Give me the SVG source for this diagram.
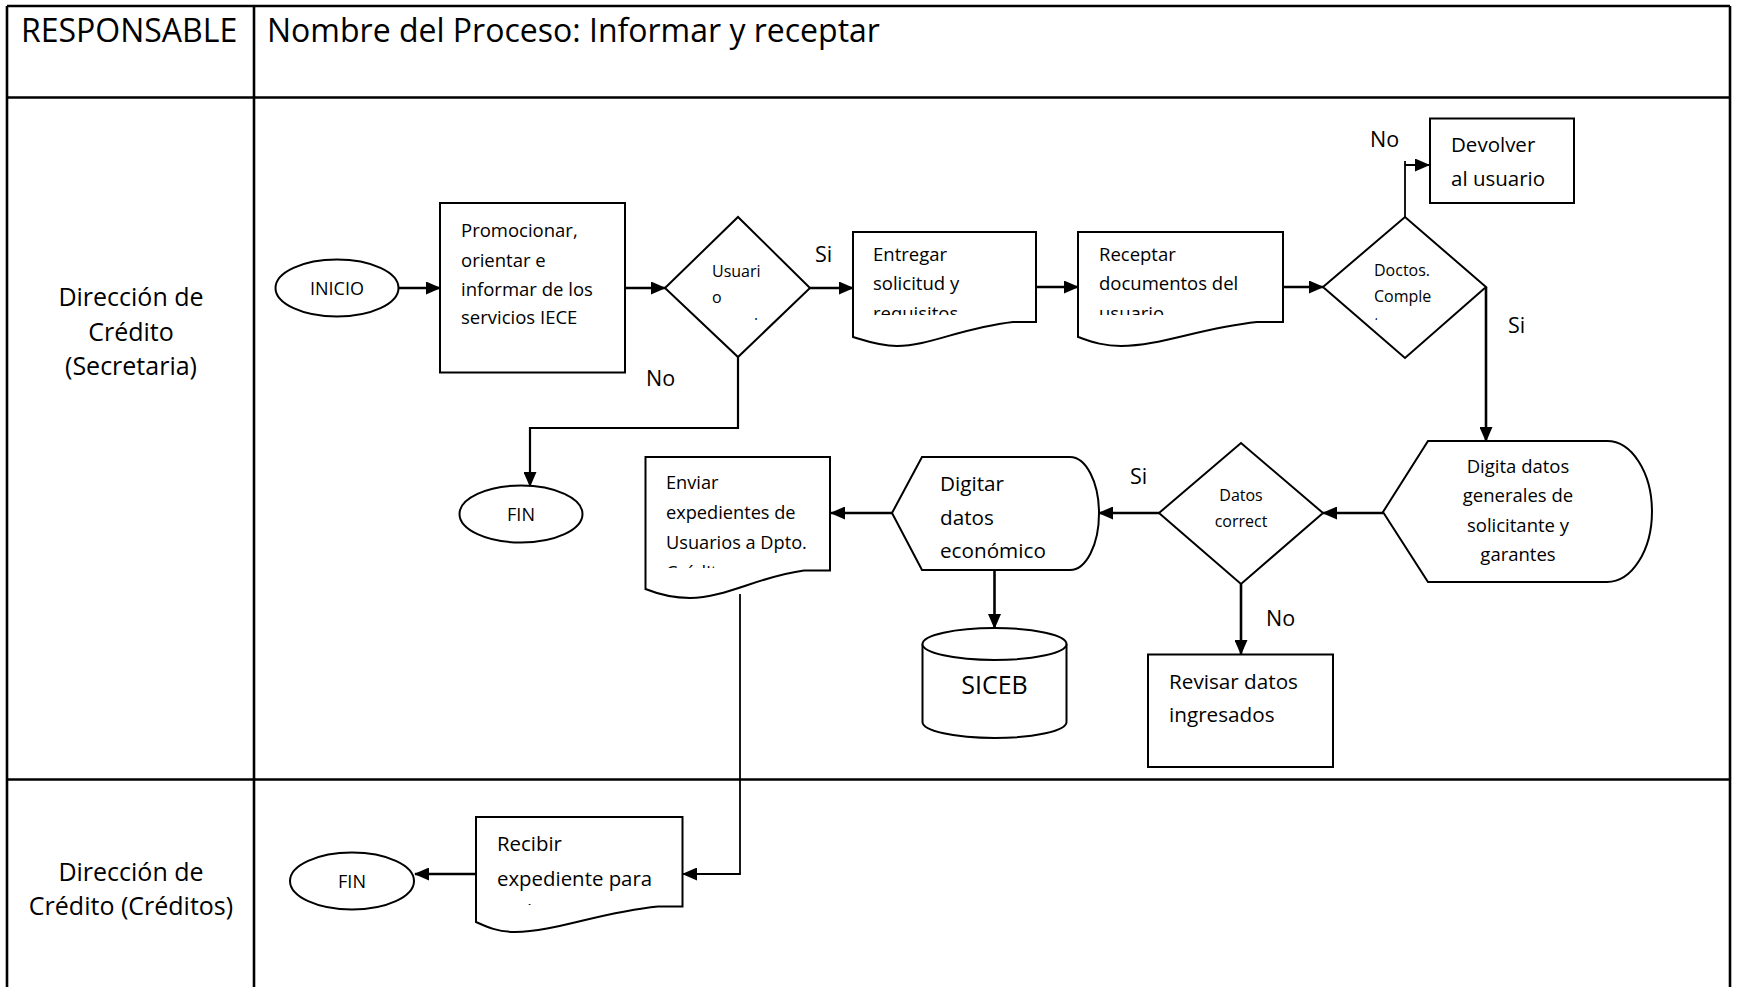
<svg xmlns="http://www.w3.org/2000/svg" width="1737" height="987" viewBox="0 0 1737 987">
<style>
text{font-family:"Open Sans","Liberation Sans",sans-serif;fill:#000}
.tbl{stroke:#000;stroke-width:2.6;fill:none}
.shp{stroke:#000;stroke-width:2;fill:#fff}
.con{stroke:#000;stroke-width:2.6;fill:none}
.thin{stroke:#000;stroke-width:1.8;fill:none}
.hdr{font-size:32px}
.lane{font-size:25px;text-anchor:middle}
.lbl{font-size:21.5px}
.mid{text-anchor:middle}
</style>
<defs>
<marker id="arr" markerUnits="userSpaceOnUse" markerWidth="15" markerHeight="13" viewBox="0 0 15 13" refX="14" refY="6.5" orient="auto">
<path d="M0,0 L15,6.5 L0,13 z" fill="#000"/>
</marker>
<clipPath id="cUsu"><rect x="700" y="250" width="90" height="70"/></clipPath>
<clipPath id="cEnt"><rect x="855" y="235" width="180" height="80"/></clipPath>
<clipPath id="cRec"><rect x="1080" y="235" width="200" height="80"/></clipPath>
<clipPath id="cDoc"><rect x="1360" y="250" width="90" height="70"/></clipPath>
<clipPath id="cEnv"><rect x="648" y="460" width="180" height="108"/></clipPath>
<clipPath id="cRcb"><rect x="478" y="820" width="202" height="85"/></clipPath>
</defs>
<rect width="1737" height="987" fill="#fff"/>
<g id="table">
<line class="tbl" x1="7" y1="6" x2="1730" y2="6"/>
<line class="tbl" x1="7" y1="6" x2="7" y2="987"/>
<line class="tbl" x1="1730" y1="6" x2="1730" y2="987"/>
<line class="tbl" x1="254" y1="6" x2="254" y2="987"/>
<line class="tbl" x1="7" y1="97.5" x2="1730" y2="97.5"/>
<line class="tbl" x1="7" y1="779.5" x2="1730" y2="779.5"/>
<text class="hdr" x="21" y="42">RESPONSABLE</text>
<text class="hdr" x="267" y="42">Nombre del Proceso: Informar y receptar</text>
<text class="lane" x="131" y="306">Dirección de</text>
<text class="lane" x="131" y="341">Crédito</text>
<text class="lane" x="131" y="375">(Secretaria)</text>
<text class="lane" x="131" y="881">Dirección de</text>
<text class="lane" x="131" y="915">Crédito (Créditos)</text>
</g>
<g id="connectors">
<line class="con" x1="399" y1="288" x2="440" y2="288" marker-end="url(#arr)"/>
<line class="con" x1="625" y1="288" x2="665" y2="288" marker-end="url(#arr)"/>
<line class="con" x1="810" y1="288" x2="853" y2="288" marker-end="url(#arr)"/>
<line class="con" x1="1036" y1="287" x2="1078" y2="287" marker-end="url(#arr)"/>
<line class="con" x1="1283" y1="287" x2="1323" y2="287" marker-end="url(#arr)"/>
<path class="thin" d="M1405,217 V161 M1405,165 H1429" marker-end="url(#arr)"/>
<line class="con" x1="1486" y1="287" x2="1486" y2="441" marker-end="url(#arr)"/>
<line class="con" x1="1383" y1="513" x2="1323" y2="513" marker-end="url(#arr)"/>
<line class="con" x1="1159" y1="513" x2="1099" y2="513" marker-end="url(#arr)"/>
<line class="con" x1="892" y1="513" x2="831" y2="513" marker-end="url(#arr)"/>
<line class="con" x1="994.5" y1="570" x2="994.5" y2="628" marker-end="url(#arr)"/>
<line class="con" x1="1241" y1="584" x2="1241" y2="654" marker-end="url(#arr)"/>
<path class="con" style="stroke-width:2.2" d="M738,357 V428 H530 V486" marker-end="url(#arr)"/>
<path class="thin" d="M740,594 V874 H683" marker-end="url(#arr)"/>
<line class="con" x1="476" y1="874" x2="415" y2="874" marker-end="url(#arr)"/>
<text class="lbl" x="815" y="262">Si</text>
<text class="lbl" x="646" y="386">No</text>
<text class="lbl" x="1370" y="147">No</text>
<text class="lbl" x="1508" y="333">Si</text>
<text class="lbl" x="1130" y="484">Si</text>
<text class="lbl" x="1266" y="626">No</text>
</g>
<g id="inicio">
<ellipse class="shp" cx="337" cy="288" rx="61.5" ry="28.5"/>
<text class="mid" x="337" y="295" font-size="18">INICIO</text>
</g>
<g id="promocionar">
<rect class="shp" x="440" y="203" width="185" height="169.5"/>
<text x="461" y="236.5" font-size="18.5">Promocionar,</text>
<text x="461" y="266.5" font-size="18.5">orientar e</text>
<text x="461" y="295.5" font-size="18.5">informar de los</text>
<text x="461" y="324" font-size="18.5">servicios IECE</text>
</g>
<g id="usuario">
<polygon class="shp" points="665,288 738,217 810,288 738,357"/>
<g clip-path="url(#cUsu)" font-size="16">
<text x="712" y="277">Usuari</text>
<text x="712" y="303">o</text>
<text x="712" y="329.5">cumple</text>
</g>
</g>
<g id="fin1">
<ellipse class="shp" cx="521" cy="514" rx="61.5" ry="28.5"/>
<text class="mid" x="521" y="520.5" font-size="18">FIN</text>
</g>
<g id="entregar">
<path class="shp" d="M853,232 H1036 V322 H1013 C960,328 930,346 897,346 C880,346 866,341 853,337 Z"/>
<g clip-path="url(#cEnt)" font-size="18.5">
<text x="873" y="261">Entregar</text>
<text x="873" y="290">solicitud y</text>
<text x="873" y="320">requisitos</text>
</g>
</g>
<g id="receptar">
<path class="shp" d="M1078,232 H1283 V322 H1257 C1200,328 1160,346 1121,346 C1102,346 1090,341 1078,337 Z"/>
<g clip-path="url(#cRec)" font-size="18.5">
<text x="1099" y="261">Receptar</text>
<text x="1099" y="290">documentos del</text>
<text x="1099" y="320">usuario</text>
</g>
</g>
<g id="doctos">
<polygon class="shp" points="1323,287 1405,217 1486,287 1405,358"/>
<g clip-path="url(#cDoc)" font-size="16">
<text x="1374" y="276">Doctos.</text>
<text x="1374" y="302">Comple</text>
<text x="1374" y="329">tos</text>
</g>
</g>
<g id="devolver">
<rect class="shp" x="1430" y="118.5" width="144" height="84.5"/>
<text x="1451" y="152" font-size="20.5">Devolver</text>
<text x="1451" y="186" font-size="20.5">al usuario</text>
</g>
<g id="digita">
<path class="shp" d="M1383,512 L1428,441 H1607 A45,70.5 0 0 1 1607,582 H1428 Z"/>
<g font-size="18.5">
<text class="mid" x="1518" y="472.5">Digita datos</text>
<text class="mid" x="1518" y="502">generales de</text>
<text class="mid" x="1518" y="531.5">solicitante y</text>
<text class="mid" x="1518" y="561">garantes</text>
</g>
</g>
<g id="datos">
<polygon class="shp" points="1159,513 1241,443 1323,513 1241,584"/>
<text class="mid" x="1241" y="501" font-size="16">Datos</text>
<text class="mid" x="1241" y="527" font-size="16">correct</text>
</g>
<g id="digitar">
<path class="shp" d="M892,513 L922,457 H1070 A29,56.5 0 0 1 1070,570 H922 Z"/>
<text x="940" y="491" font-size="20.7">Digitar</text>
<text x="940" y="525" font-size="20.7">datos</text>
<text x="940" y="557.5" font-size="20.7">económico</text>
</g>
<g id="siceb">
<path class="shp" d="M922.5,644 V722 A72,16 0 0 0 1066.5,722 V644"/>
<ellipse class="shp" cx="994.5" cy="644" rx="72" ry="16"/>
<text class="mid" x="994.5" y="694" font-size="25">SICEB</text>
</g>
<g id="revisar">
<rect class="shp" x="1148" y="654.5" width="185" height="112.5"/>
<text x="1169" y="688.5" font-size="20.7">Revisar datos</text>
<text x="1169" y="722" font-size="20.7">ingresados</text>
</g>
<g id="enviar">
<path class="shp" d="M645.5,457 H830 V570.5 H804 C760,576 725,598 690,598 C672,598 658,594 645.5,589 Z"/>
<g clip-path="url(#cEnv)" font-size="18.2">
<text x="666" y="488.5">Enviar</text>
<text x="666" y="518.5">expedientes de</text>
<text x="666" y="548.5">Usuarios a Dpto.</text>
<text x="666" y="578.5">Crédito</text>
</g>
</g>
<g id="recibir">
<path class="shp" d="M476,817 H682.5 V906.5 H658 C600,912 555,932 515,932 C498,932 487,927 476,922 Z"/>
<g clip-path="url(#cRcb)" font-size="20.4">
<text x="497" y="851">Recibir</text>
<text x="497" y="885.5">expediente para</text>
<text x="497" y="918">revisar</text>
</g>
</g>
<g id="fin2">
<ellipse class="shp" cx="352" cy="881" rx="62" ry="28.5"/>
<text class="mid" x="352" y="887.5" font-size="18">FIN</text>
</g>
</svg>
